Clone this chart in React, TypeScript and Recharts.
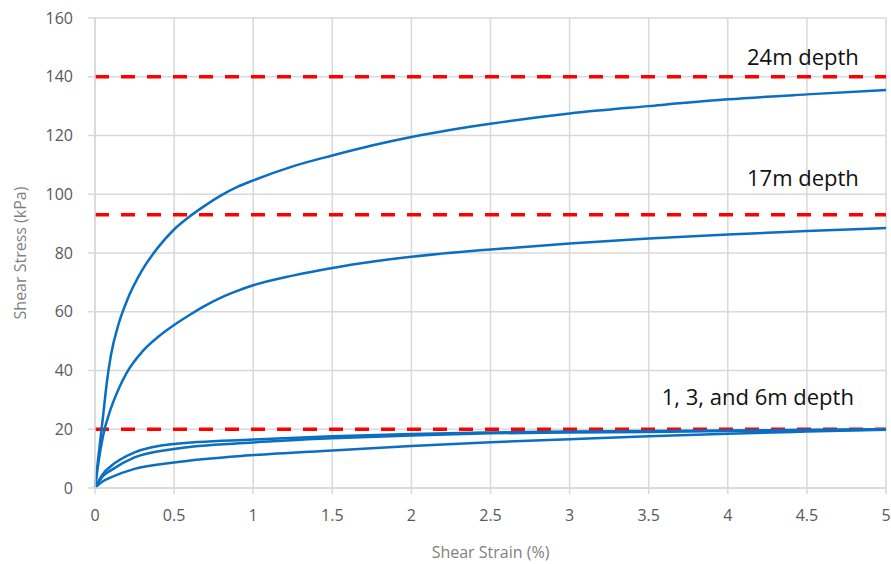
import React from "react";
import {
  LineChart,
  Line,
  XAxis,
  YAxis,
  CartesianGrid,
  ReferenceLine,
  ReferenceDot,
} from "recharts";

// strain (%) sample points per curve
const strain24 = [0, 0.02, 0.05, 0.075, 0.1, 0.15, 0.2, 0.3, 0.4, 0.5, 0.6, 0.7, 0.8, 0.9, 1, 1.25, 1.5, 1.75, 2, 2.5, 3, 3.5, 4, 4.5, 5];
const stress24 = [0, 10, 24, 36, 45, 56, 63.5, 74.3, 82, 88, 92.5, 96.3, 99.7, 102.5, 104.7, 109.5, 113.2, 116.6, 119.5, 124, 127.5, 130, 132.3, 134, 135.5];

const strain17 = [0, 0.02, 0.05, 0.1, 0.15, 0.2, 0.3, 0.4, 0.5, 0.6, 0.7, 0.8, 0.9, 1, 1.25, 1.5, 1.75, 2, 2.5, 3, 3.5, 4, 4.5, 5];
const stress17 = [0, 8, 17.5, 27, 33.8, 39.2, 46.5, 51.5, 55.5, 59, 62.2, 64.9, 67.1, 69, 72.3, 74.9, 77, 78.7, 81.2, 83.2, 84.9, 86.3, 87.5, 88.5];

const strainShallow = [0, 0.05, 0.1, 0.25, 0.5, 1, 1.5, 2, 2.5, 3, 3.5, 4, 4.5, 5];
const stress6 = [0, 4.8, 7.4, 12.1, 15, 16.5, 17.6, 18.4, 18.9, 19.2, 19.4, 19.6, 19.8, 20];
const stress3 = [0, 4, 6, 10.4, 13.3, 15.5, 16.9, 17.9, 18.6, 18.9, 19.1, 19.4, 19.6, 19.9];
const stress1 = [0, 2.3, 3.6, 6.5, 8.7, 11.2, 12.8, 14.3, 15.6, 16.6, 17.6, 18.5, 19.2, 19.8];

const xTicks = [0, 0.5, 1, 1.5, 2, 2.5, 3, 3.5, 4, 4.5, 5];
const yTicks = [0, 20, 40, 60, 80, 100, 120, 140, 160];

// shear strength limits (kPa)
const limits = [140, 93, 20];

const notes = [
  { text: "24m depth", x: 4.475, y: 146.6 },
  { text: "17m depth", x: 4.475, y: 105.4 },
  { text: "1, 3, and 6m depth", x: 4.19, y: 30.8 },
];

const toPoints = (xs: number[], ys: number[]) => xs.map((x, i) => ({ x, y: ys[i] }));

const series = [
  toPoints(strain24, stress24),
  toPoints(strain17, stress17),
  toPoints(strainShallow, stress6),
  toPoints(strainShallow, stress3),
  toPoints(strainShallow, stress1),
];

const BLUE = "#0a6fc2";
const GRID = "#d9d9d9";
const FONT = "'Open Sans', sans-serif";

export default function App() {
  return (
    <div style={{ position: "fixed", left: 0, top: 0, background: "#fff" }}>
      <LineChart width={891} height={564} margin={{ top: 18, right: 5, bottom: 0, left: 0 }}>
        <CartesianGrid stroke={GRID} strokeWidth={1.5} />
        <XAxis
          type="number"
          dataKey="x"
          domain={[0, 5]}
          ticks={xTicks}
          height={76}
          stroke={GRID}
          strokeWidth={1.5}
          tickSize={6}
          tickMargin={16}
          tick={{ fill: "#595959", fontSize: 16, fontFamily: FONT }}
          label={{
            value: "Shear Strain (%)",
            position: "insideBottom",
            offset: 6,
            fill: "#7f7f7f",
            fontSize: 16,
            fontFamily: FONT,
          }}
        />
        <YAxis
          type="number"
          domain={[0, 160]}
          ticks={yTicks}
          width={95}
          stroke={GRID}
          strokeWidth={1.5}
          tickSize={7}
          tickMargin={15}
          tick={{ fill: "#595959", fontSize: 16, fontFamily: FONT }}
          label={{
            value: "Shear Stress (kPa)",
            angle: -90,
            position: "insideLeft",
            offset: 20,
            fill: "#7f7f7f",
            fontSize: 16,
            fontFamily: FONT,
            style: { textAnchor: "middle" },
          }}
        />
        {limits.map((v) => (
          <ReferenceLine key={v} y={v} stroke="#ff0000" strokeWidth={3.5} strokeDasharray="14 12" />
        ))}
        {series.map((d, i) => (
          <Line
            key={i}
            data={d}
            dataKey="y"
            type="monotone"
            stroke={BLUE}
            strokeWidth={2.5}
            dot={false}
            isAnimationActive={false}
          />
        ))}
        {notes.map((n) => (
          <ReferenceDot
            key={n.text}
            x={n.x}
            y={n.y}
            r={0}
            fill="none"
            stroke="none"
            label={{
              value: n.text,
              position: "center",
              fill: "#111",
              fontSize: 22,
              fontFamily: FONT,
            }}
          />
        ))}
      </LineChart>
    </div>
  );
}
